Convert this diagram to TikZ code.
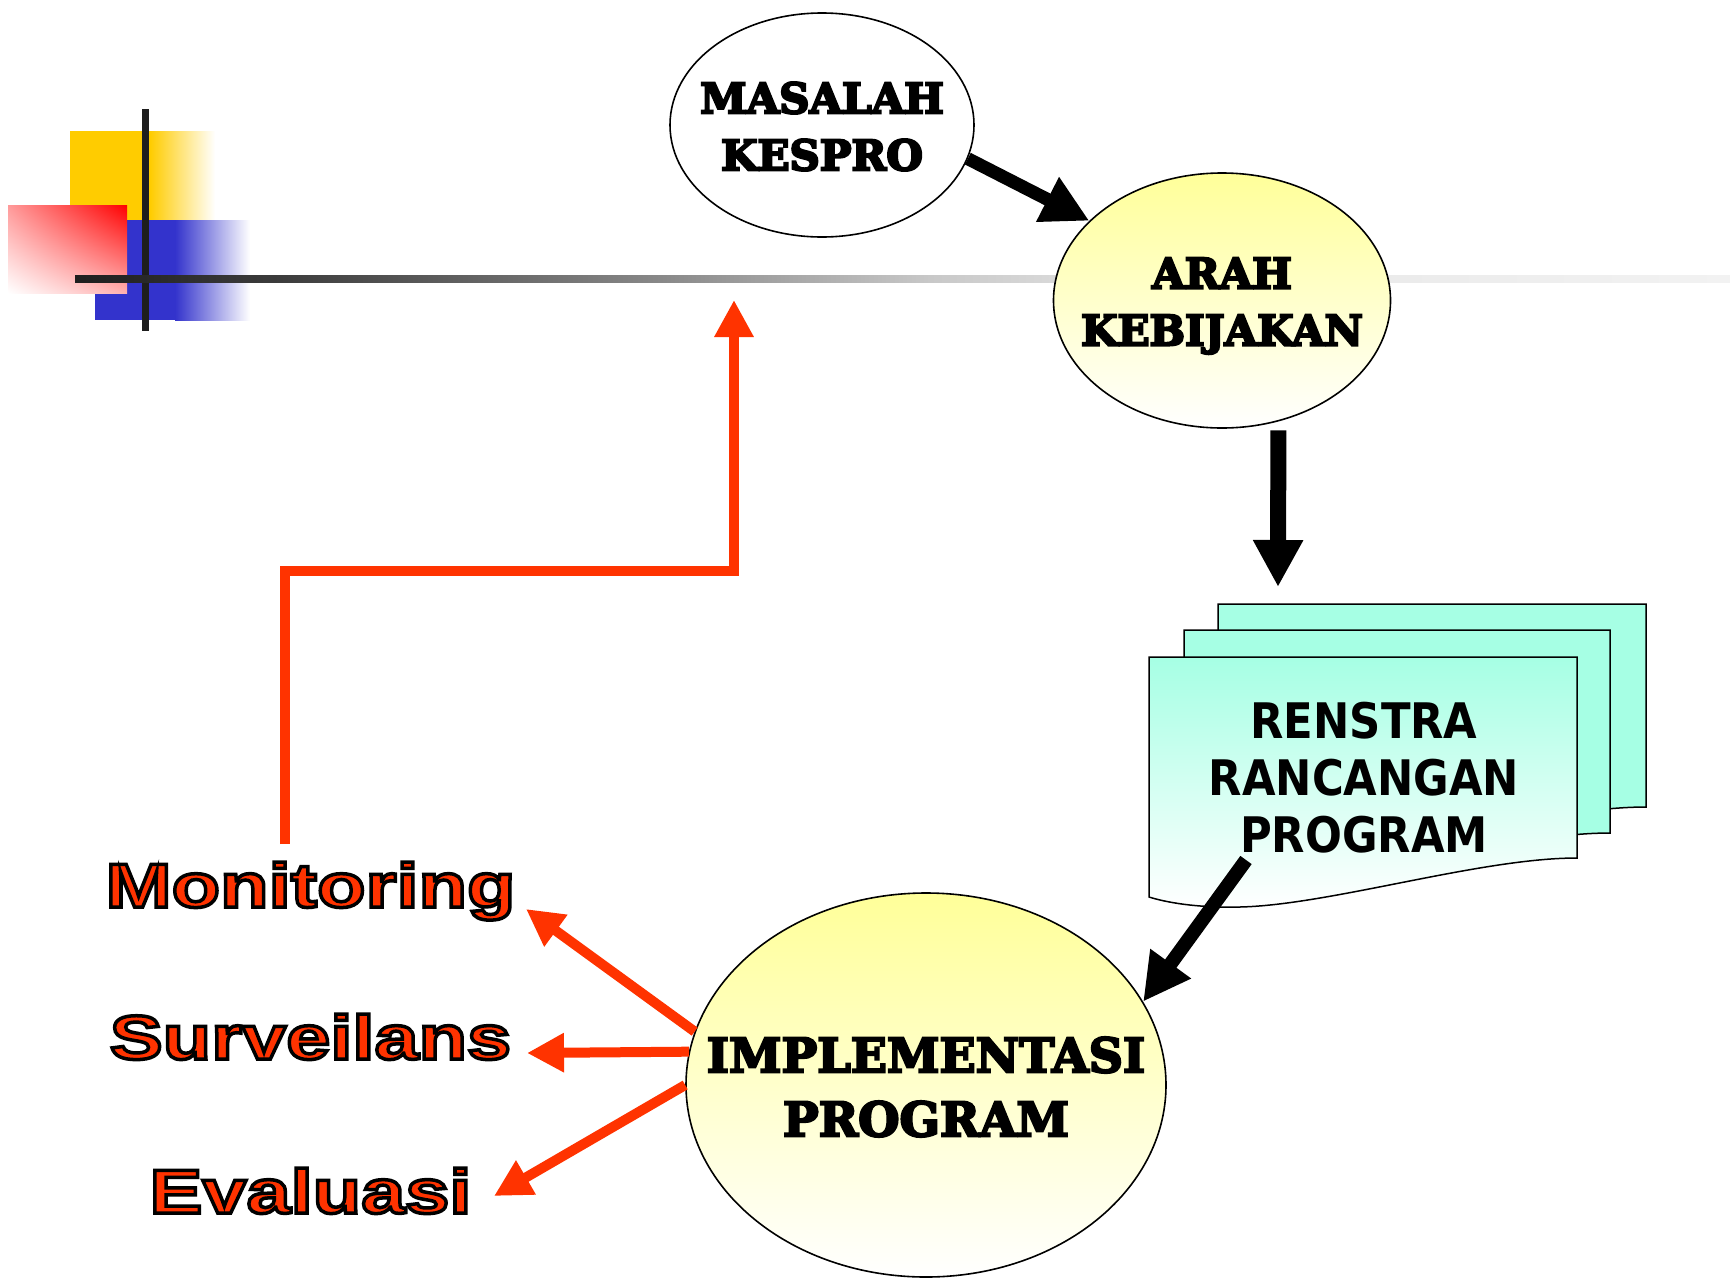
\documentclass[tikz,border=0pt]{standalone}
\usepackage{fontspec}
\usetikzlibrary{arrows.meta,shapes.geometric,shadings}
\newfontfamily\slabfont{DejaVu Serif}
\newfontfamily\docfont[FakeStretch=0.885]{DejaVu Sans}
\newfontfamily\redfont[FakeStretch=1.28]{Liberation Sans}
\newcommand{\outlinedtext}[1]{\special{pdf:literal direct 0 G 3.5 w 2 Tr}#1\special{pdf:literal direct 0 Tr}}
\newcommand{\heavytext}[1]{\special{pdf:literal direct 0 G 2.2 w 2 Tr}#1\special{pdf:literal direct 0 Tr}}
\definecolor{fbred}{HTML}{FF3300}
\definecolor{lightyel}{HTML}{FFFF99}
\definecolor{aqua}{HTML}{A6FFE4}
\definecolor{decoyel}{HTML}{FFCC00}
\definecolor{decoblue}{HTML}{3333CC}
\definecolor{redmidA}{HTML}{FF9A9A}
\definecolor{redmidB}{HTML}{FFB0B0}
\definecolor{hlA}{HTML}{1E1E1E}
\definecolor{hlB}{HTML}{3C3C3C}
\definecolor{hlC}{HTML}{888888}
\definecolor{hlD}{HTML}{C8C8C8}
\definecolor{hlE}{HTML}{E6E6E6}
\definecolor{hlF}{HTML}{F2F2F2}
\begin{document}
\begin{tikzpicture}[x=1pt,y=-1pt,
  ell/.style={ellipse, draw=black, line width=1.6pt, inner sep=0pt},
  slab/.style={font=\slabfont\bfseries\fontsize{42}{57}\selectfont, align=center, inner sep=0pt},
  slabbig/.style={font=\slabfont\bfseries\fontsize{47.5}{64}\selectfont, align=center, inner sep=0pt},
  doctext/.style={font=\docfont\bfseries\fontsize{49}{57}\selectfont, align=center, inner sep=0pt},
  redlabel/.style={font=\redfont\bfseries\fontsize{62}{70}\selectfont, text=fbred, inner sep=0pt, anchor=base},
  blkarrow/.style={line width=#1, draw=black, -{Triangle[length=47pt,width=47pt]}},
  redarrow/.style={line width=10pt, draw=fbred, -{Triangle[length=37pt,width=37pt]}},
  page/.style={draw=black, line width=1.5pt},
]
\fill[white] (0,0) rectangle (1730,1283);
\useasboundingbox (0,0) rectangle (1730,1283);

% corner decoration
\fill[decoyel] (70,131) rectangle (150,220);
\shade[left color=decoyel, right color=white] (150,131) rectangle (215,220);
\fill[decoblue] (95,220) rectangle (175,320);
\shade[left color=decoblue, right color=white] (175,220) rectangle (250,320);
\shade[upper right=red, lower left=white, upper left=redmidA, lower right=redmidB] (8,205) rectangle (127,293);
\fill[hlA] (142,109) rectangle (149,331);
\shade[left color=hlA, right color=hlB] (75,275) rectangle (280,282);
\shade[left color=hlB, right color=hlC] (280,275) rectangle (660,282);
\shade[left color=hlC, right color=hlD] (660,275) rectangle (930,282);
\shade[left color=hlD, right color=hlE] (930,275) rectangle (1160,282);
\shade[left color=hlE, right color=hlF] (1160,275) rectangle (1730,282);

% documents
\draw[page, fill=aqua, shift={(1218,604)}] (0,0) -- (428,0) -- (428,203) .. controls (331,203) and (181,248) .. (91,250) .. controls (46,251) and (16,245) .. (0,240) -- cycle;
\draw[page, fill=aqua, shift={(1184,630)}] (0,0) -- (426,0) -- (426,203) .. controls (329,203) and (181,248) .. (91,250) .. controls (46,251) and (16,245) .. (0,240) -- cycle;
\draw[page, top color=aqua, bottom color=white, shift={(1149,657)}] (0,0) -- (428,0) -- (428,201) .. controls (331,201) and (181,248) .. (91,250) .. controls (46,251) and (16,245) .. (0,240) -- cycle;
\node[doctext] (renstra) at (1364,778) {RENSTRA\\RANCANGAN\\PROGRAM};

% ellipses
\node[ell, fill=white, minimum width=304pt, minimum height=224pt] (mas) at (822,125) {};
\node[slab] (mastxt) at (822,126.5) {\heavytext{MASALAH}\\\heavytext{KESPRO}};
\node[ell, top color=lightyel, bottom color=white, minimum width=337pt, minimum height=255pt] (arah) at (1222,300.5) {};
\node[slab] (arahtxt) at (1222,306) {\heavytext{ARAH}\\\heavytext{KEBIJAKAN}};
\node[ell, top color=lightyel, bottom color=white, minimum width=480pt, minimum height=384pt] (impl) at (926,1085) {};
\node[slabbig] (impltxt) at (926,1087) {\heavytext{IMPLEMENTASI}\\\heavytext{PROGRAM}};

% red labels
\node[redlabel] (mon) at (310.5,907) {\outlinedtext{Monitoring}};
\node[redlabel] (sur) at (310.5,1059) {\outlinedtext{Surveilans}};
\node[redlabel] (eva) at (310.5,1213) {\outlinedtext{Evaluasi}};

% black arrows
\coordinate (rsin) at (1278,587);
\coordinate (rsout) at (1246,860);
\draw[blkarrow=13pt] (mas.-13) -- (arah.149);
\draw[blkarrow=16pt, shorten <=9pt] (arah.-65) -- (rsin);
\draw[blkarrow=14pt] (rsout) -- (impl.21);

% red arrows
\coordinate (montip) at (526,909);
\coordinate (surtip) at (527,1053);
\coordinate (evatip) at (494,1196);
\draw[redarrow] (impl.167.6) -- (montip);
\draw[redarrow] (impl.172.3) -- (surtip);
\draw[redarrow] (impl.180) -- (evatip);

\coordinate (fbstart) at (285,844);
\coordinate (fbcorner) at (734,571);
\coordinate (fbtip) at (734,300);
\draw[redarrow, line join=miter] (fbstart) |- (fbcorner) -- (fbtip);
\end{tikzpicture}
\end{document}
